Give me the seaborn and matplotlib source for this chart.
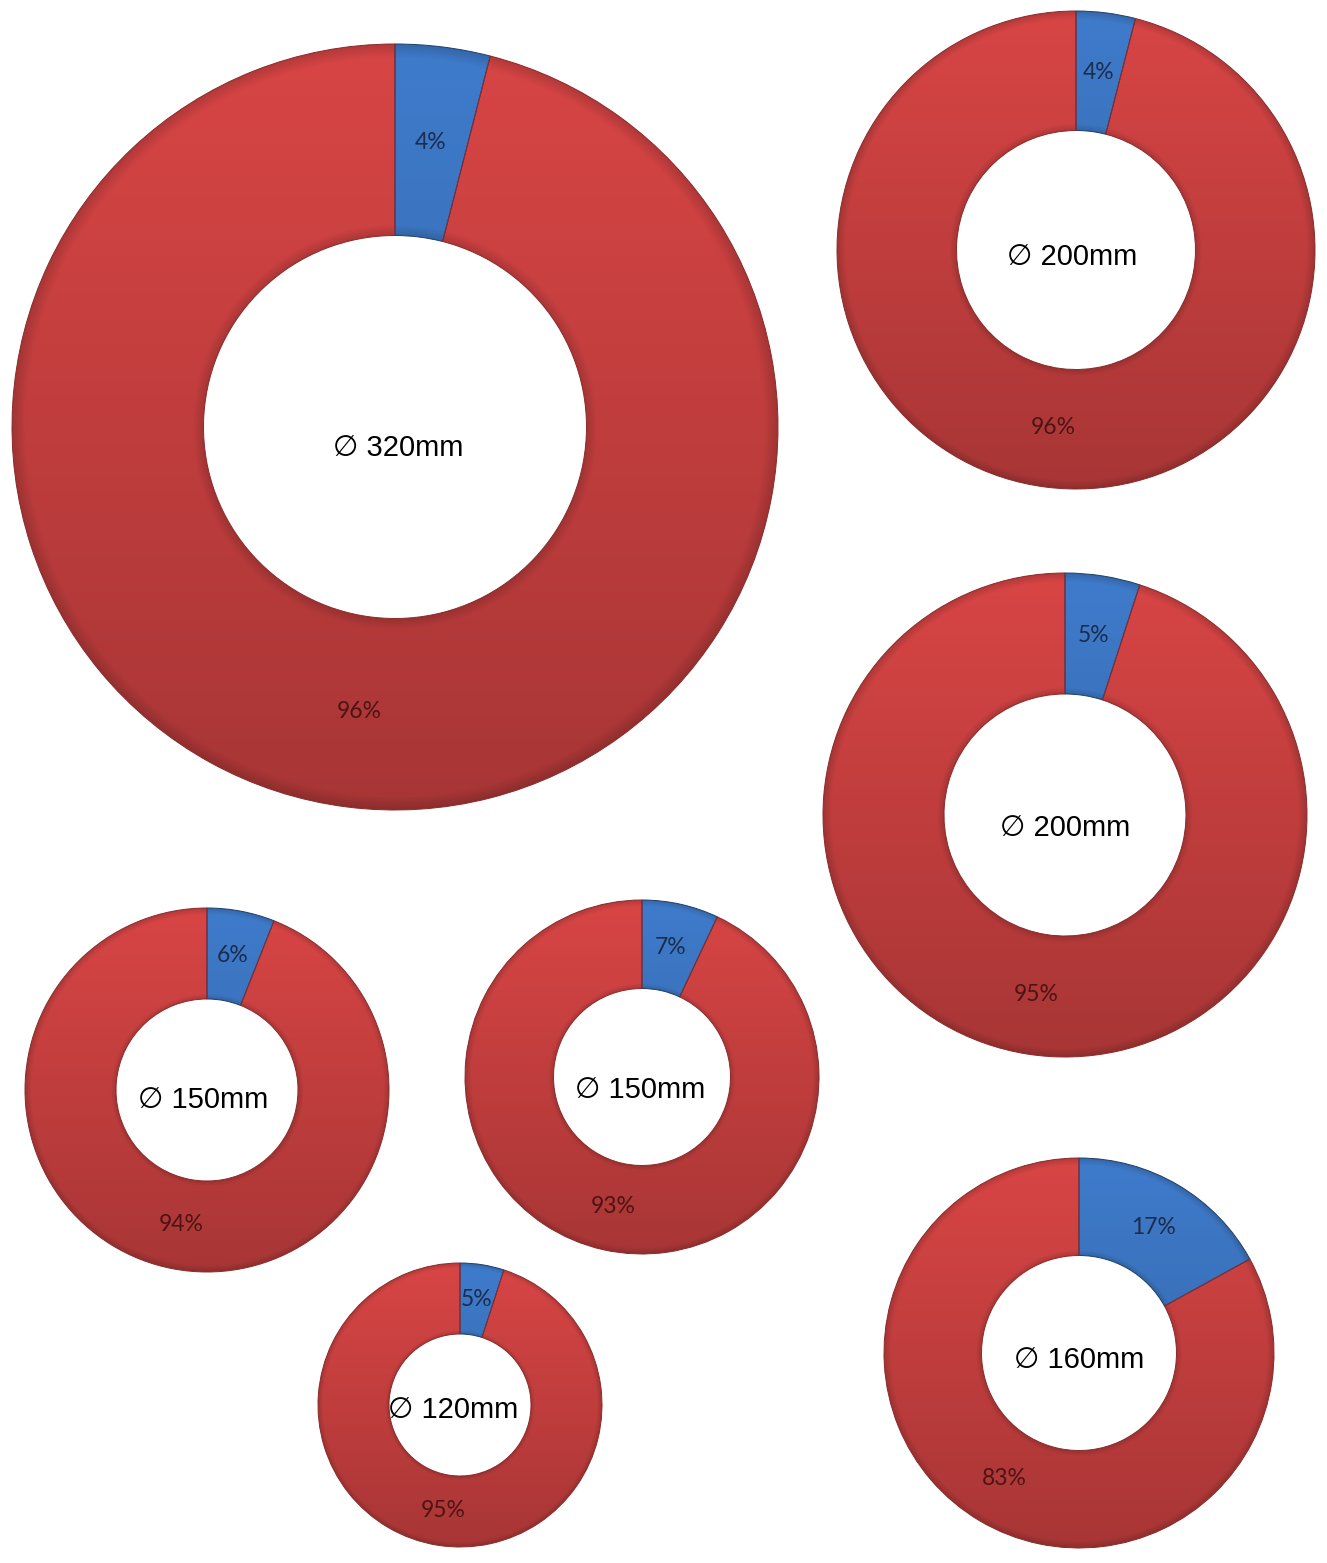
import numpy as np
import matplotlib
matplotlib.use("Agg")
import matplotlib.pyplot as plt
import seaborn as sns

# Share of each pipe cross-section (blue part vs red part), in percent
diameters = ["320mm", "200mm", "200mm", "150mm", "150mm", "120mm", "160mm"]
blue_share = [4, 4, 5, 6, 7, 5, 17]
red_share = [96, 96, 95, 94, 93, 95, 83]

# Page layout (pixels on a 1327 x 1563 canvas)
W, H = 1327, 1563
centers = [(395, 427), (1076, 250), (1065, 815), (207, 1090),
           (642, 1077), (460, 1405), (1079, 1353)]
outer_radii = [383, 239, 242, 182, 177, 142, 195]
caption_offsets = [(3, 21), (-4, 7), (0, 13), (-4, 10), (-2, 13), (-7, 5), (0, 7)]

sns.set_theme(style="white")
plt.rcParams["font.family"] = ["Lato", "DejaVu Sans"]

palette = sns.color_palette(["#3d78c6", "#d24343"])
edge_colors = ["#1f3f66", "#8a2a2a"]
label_colors = ["#1c2c4c", "#4d1414"]


def shade_wedge(ax, wedge, base):
    """Fill a wedge with a top-lit gradient and a soft bevel at both rims."""
    n = 500
    ys, xs = np.mgrid[1:-1:n * 1j, -1:1:n * 1j]
    r = np.hypot(xs, ys)
    vert = (ys + 1) / 2
    light = 0.80 + 0.23 * vert
    d_out = np.clip((1 - r) / 0.035, 0, 1)
    d_in = np.clip((r - 0.5) / 0.03, 0, 1)
    bevel = 0.84 + 0.16 * np.minimum(d_out, d_in)
    rgb = np.clip(np.array(base)[None, None, :] * (light * bevel)[..., None], 0, 1)
    im = ax.imshow(rgb, extent=(-1, 1, -1, 1), origin="upper",
                   zorder=0.5, interpolation="bilinear")
    im.set_clip_path(wedge)
    wedge.set_facecolor("none")


fig = plt.figure(figsize=(W / 100, H / 100), dpi=100)
fig.patch.set_facecolor("white")

for i in range(len(diameters)):
    cx, cy = centers[i]
    R = outer_radii[i]
    ax = fig.add_axes([(cx - R) / W, 1 - (cy + R) / H, 2 * R / W, 2 * R / H])
    values = [blue_share[i], red_share[i]]
    wedges, texts, autotexts = ax.pie(
        values,
        colors=palette,
        startangle=90,
        counterclock=False,
        radius=1,
        autopct=lambda p: f"{p:.0f}%",
        pctdistance=0.75,
        wedgeprops=dict(width=0.5, linewidth=0.7),
        textprops=dict(fontsize=16.5),
    )
    for k, w in enumerate(wedges):
        w.set_edgecolor(edge_colors[k])
        w.set_clip_on(False)
        shade_wedge(ax, w, palette[k])
    for k, t in enumerate(autotexts):
        t.set_color(label_colors[k])
        t.set_zorder(5)
    dx, dy = caption_offsets[i]
    ax.text(dx / R, -dy / R, "\u2205 " + diameters[i], ha="center", va="center",
            fontsize=21, color="black",
            family=["Liberation Sans", "DejaVu Sans"], zorder=6)
    ax.set_xlim(-1, 1)
    ax.set_ylim(-1, 1)
    ax.set_aspect("equal")
    ax.axis("off")

fig.savefig("out.png", dpi=100, facecolor="white")
